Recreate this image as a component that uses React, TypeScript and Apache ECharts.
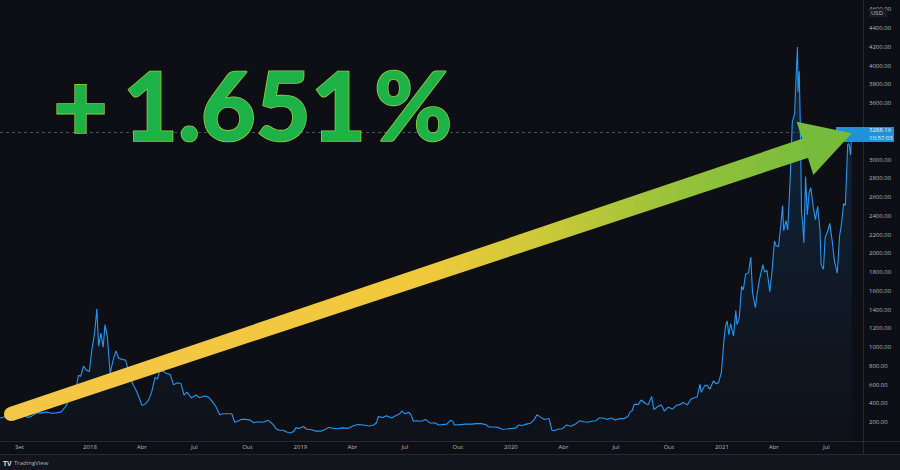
import React, { useEffect, useRef } from "react";
import * as echarts from "echarts";

const dates: string[] = [
  "2017-07-29","2017-08-05","2017-08-12","2017-08-19","2017-08-26","2017-09-02","2017-09-09","2017-09-15","2017-09-22","2017-10-01",
  "2017-10-10","2017-10-18","2017-10-26","2017-11-04","2017-11-12","2017-11-20","2017-11-28","2017-12-05","2017-12-12","2017-12-16",
  "2017-12-21","2017-12-25","2017-12-31","2018-01-04","2018-01-09","2018-01-13","2018-01-16","2018-01-20","2018-01-24","2018-01-27",
  "2018-01-31","2018-02-05","2018-02-10","2018-02-15","2018-02-20","2018-02-26","2018-03-04","2018-03-10","2018-03-16","2018-03-22",
  "2018-03-28","2018-04-01","2018-04-06","2018-04-12","2018-04-18","2018-04-24","2018-04-28","2018-05-03","2018-05-08","2018-05-14",
  "2018-05-20","2018-05-26","2018-06-02","2018-06-08","2018-06-13","2018-06-18","2018-06-26","2018-07-04","2018-07-10","2018-07-18",
  "2018-07-25","2018-07-31","2018-08-07","2018-08-14","2018-08-20","2018-08-28","2018-09-04","2018-09-09","2018-09-14","2018-09-20",
  "2018-09-28","2018-10-05","2018-10-12","2018-10-20","2018-10-28","2018-11-06","2018-11-14","2018-11-20","2018-11-25","2018-12-02",
  "2018-12-08","2018-12-14","2018-12-20","2018-12-24","2018-12-30","2019-01-06","2019-01-12","2019-01-20","2019-01-28","2019-02-05",
  "2019-02-12","2019-02-19","2019-02-26","2019-03-05","2019-03-15","2019-03-25","2019-04-02","2019-04-10","2019-04-20","2019-04-30",
  "2019-05-08","2019-05-13","2019-05-16","2019-05-24","2019-05-30","2019-06-08","2019-06-15","2019-06-22","2019-06-26","2019-07-01",
  "2019-07-08","2019-07-12","2019-07-16","2019-07-22","2019-07-30","2019-08-06","2019-08-14","2019-08-22","2019-08-29","2019-09-05",
  "2019-09-12","2019-09-18","2019-09-22","2019-09-25","2019-10-05","2019-10-15","2019-10-25","2019-11-02","2019-11-10","2019-11-18",
  "2019-11-24","2019-12-02","2019-12-10","2019-12-17","2019-12-25","2020-01-04","2020-01-10","2020-01-14","2020-01-20","2020-01-28",
  "2020-02-04","2020-02-10","2020-02-15","2020-02-20","2020-02-28","2020-03-07","2020-03-12","2020-03-16","2020-03-22","2020-03-30",
  "2020-04-06","2020-04-14","2020-04-22","2020-04-29","2020-05-06","2020-05-13","2020-05-20","2020-05-27","2020-06-02","2020-06-09",
  "2020-06-16","2020-06-23","2020-06-30","2020-07-08","2020-07-15","2020-07-22","2020-07-25","2020-07-29","2020-08-02","2020-08-09",
  "2020-08-14","2020-08-20","2020-08-26","2020-09-01","2020-09-05","2020-09-12","2020-09-18","2020-09-23","2020-09-30","2020-10-07",
  "2020-10-14","2020-10-21","2020-10-25","2020-11-02","2020-11-08","2020-11-14","2020-11-19","2020-11-24","2020-11-26","2020-12-02",
  "2020-12-06","2020-12-11","2020-12-17","2020-12-22","2020-12-26","2020-12-31","2021-01-04","2021-01-07","2021-01-10","2021-01-13",
  "2021-01-16","2021-01-21","2021-01-25","2021-01-27","2021-01-31","2021-02-04","2021-02-07","2021-02-11","2021-02-16","2021-02-20",
  "2021-02-23","2021-02-28","2021-03-03","2021-03-07","2021-03-13","2021-03-16","2021-03-20","2021-03-25","2021-03-29","2021-04-02",
  "2021-04-05","2021-04-09","2021-04-13","2021-04-16","2021-04-18","2021-04-22","2021-04-25","2021-04-29","2021-05-03","2021-05-07",
  "2021-05-10","2021-05-12","2021-05-13","2021-05-15","2021-05-17","2021-05-19","2021-05-21","2021-05-23","2021-05-26","2021-05-29",
  "2021-06-01","2021-06-04","2021-06-08","2021-06-12","2021-06-16","2021-06-20","2021-06-22","2021-06-26","2021-06-29","2021-07-03",
  "2021-07-07","2021-07-11","2021-07-15","2021-07-20","2021-07-24","2021-07-27","2021-07-31","2021-08-03","2021-08-05","2021-08-07",
  "2021-08-09","2021-08-10","2021-08-12","2021-08-14"
];

const prices: number[] = [
  245,255,300,295,330,345,290,250,265,300,
  300,310,295,300,310,370,470,460,700,690,
  800,760,740,960,1150,1410,1010,1150,1000,1240,
  1120,720,860,960,880,870,860,720,610,540,
  450,380,390,430,520,680,660,780,740,720,
  710,600,620,610,490,520,460,490,460,480,
  470,430,370,280,290,290,290,200,210,230,
  230,225,195,205,200,220,180,130,115,115,
  95,85,100,140,135,155,125,120,105,105,
  120,145,135,130,140,135,160,175,170,160,
  170,195,260,250,270,245,270,290,320,290,
  305,275,210,215,210,230,190,195,170,175,
  180,220,210,170,175,180,180,185,185,175,
  150,150,145,125,128,135,140,170,165,180,
  190,225,280,260,230,240,115,110,125,130,
  170,158,180,215,205,200,210,215,245,245,
  230,245,225,240,238,260,305,320,390,390,
  437,405,385,475,335,370,385,320,360,340,
  380,390,410,385,445,460,470,605,520,590,
  595,550,640,610,620,735,1040,1220,1280,1130,
  1250,1120,1390,1240,1310,1650,1610,1780,1790,1960,
  1580,1420,1570,1720,1880,1800,1820,1590,1820,2130,
  2080,2070,2300,2510,2240,2350,2250,2750,3400,3490,
  3950,4200,3720,3940,3330,2430,2320,2110,2820,2410,
  2640,2700,2510,2360,2500,2250,1880,1830,2170,2230,
  2320,2140,1920,1790,2190,2300,2530,2510,2830,3160,
  3170,3140,3050,3288.16
];

const xTickDates: string[] = [
  "2017-09-01","2018-01-01","2018-04-01","2018-07-01","2018-10-01",
  "2019-01-01","2019-04-01","2019-07-01","2019-10-01",
  "2020-01-01","2020-04-01","2020-07-01","2020-10-01",
  "2021-01-01","2021-04-01","2021-07-01"
];
const monthNames: string[] = ["Jan","Fev","Mar","Abr","Mai","Jun","Jul","Ago","Set","Out","Nov","Dez"];
const xStart = "2017-07-29";
const xEnd = "2021-09-02";
const yStep = 200;
const yMax = 4700;
const lastPrice = 3288.16;
const countdown = "10:57:03";
const currency = "USD";
const headlineParts: string[] = ["+", "1.651", "%"];
const brand = "TradingView";

function ts(s: string): number {
  const [y, m, d] = s.split("-").map(Number);
  return Date.UTC(y, m - 1, d);
}

const BG = "#0e0f15";
const AXIS_TEXT = "#b2b5be";
const BORDER = "#262933";

export default function App() {
  const ref = useRef<HTMLDivElement>(null);

  useEffect(() => {
    if (!ref.current) return;
    const chart = echarts.init(ref.current, undefined, { renderer: "svg" });
    const seriesData = dates.map((d, i) => [ts(d), prices[i]]);

    const option: any = {
      animation: false,
      backgroundColor: BG,
      grid: { left: 0, right: 37, top: 0, bottom: 29 },
      xAxis: {
        type: "value",
        min: ts(xStart),
        max: ts(xEnd) + 14 * 3600 * 1000,
        axisLine: { show: false },
        axisTick: { show: false },
        splitLine: { show: false },
        axisLabel: {
          customValues: xTickDates.map(ts),
          color: AXIS_TEXT,
          fontSize: 6,
          fontFamily: "Open Sans",
          margin: 3,
          formatter: (v: number) => {
            const dt = new Date(v);
            const m = dt.getUTCMonth();
            return m === 0 ? String(dt.getUTCFullYear()) : monthNames[m];
          },
        },
      },
      yAxis: {
        type: "value",
        position: "right",
        min: 0,
        max: yMax,
        interval: yStep,
        axisLine: { show: false },
        axisTick: { show: false },
        splitLine: { show: false },
        axisLabel: {
          color: AXIS_TEXT,
          fontSize: 6,
          fontFamily: "Open Sans",
          margin: 6,
          formatter: (v: number) =>
            v > 0 && v % yStep === 0 && Math.abs(v - lastPrice) > 120 ? v.toFixed(2) : "",
        },
      },
      series: [
        {
          type: "line",
          data: seriesData,
          showSymbol: false,
          symbol: "none",
          lineStyle: { color: "#2196f3", width: 1.1 },
          areaStyle: {
            color: new echarts.graphic.LinearGradient(0, 0, 0, 1, [
              { offset: 0, color: "rgba(33,150,243,0.26)" },
              { offset: 1, color: "rgba(33,150,243,0.02)" },
            ]),
          },
          markLine: {
            silent: true,
            symbol: "none",
            label: { show: false },
            lineStyle: { color: "#4a4e5c", width: 1, type: [3, 3] },
            data: [{ yAxis: lastPrice }],
          },
        },
      ],
    };
    chart.setOption(option);

    const py = chart.convertToPixel({ yAxisIndex: 0 }, lastPrice) as number;

    const A = [11, 414];
    const B = [806, 148];
    const dx = B[0] - A[0];
    const dy = B[1] - A[1];
    const L = Math.sqrt(dx * dx + dy * dy);
    const nx = -dy / L;
    const ny = dx / L;
    const w0 = 7;
    const w1 = 10;
    const shaft = [
      [A[0] + nx * w0, A[1] + ny * w0],
      [A[0] - nx * w0, A[1] - ny * w0],
      [B[0] - nx * w1, B[1] - ny * w1],
      [B[0] + nx * w1, B[1] + ny * w1],
    ];

    const textStyleBase = {
      fill: "#1db247",
      stroke: "#9ccb3a",
      lineWidth: 1.6,
      fontFamily: "Lato",
      fontWeight: 900,
      fontSize: 95,
    };
    const headY = 56.5;

    chart.setOption({
      graphic: [
        { type: "rect", z: 1, silent: true, shape: { x: 0, y: 455, width: 900, height: 15 }, style: { fill: "#13141c" } },
        { type: "line", z: 1, silent: true, shape: { x1: 0, y1: 441.5, x2: 900, y2: 441.5 }, style: { stroke: BORDER, lineWidth: 1 } },
        { type: "line", z: 1, silent: true, shape: { x1: 0, y1: 454.5, x2: 900, y2: 454.5 }, style: { stroke: BORDER, lineWidth: 1 } },
        { type: "line", z: 1, silent: true, shape: { x1: 863.5, y1: 0, x2: 863.5, y2: 455 }, style: { stroke: BORDER, lineWidth: 1 } },
        { type: "rect", z: 50, silent: true, shape: { x: 869, y: 9, width: 18, height: 8, r: 1 }, style: { fill: "#1b1d26" } },
        { type: "text", z: 51, silent: true, x: 871, y: 13, style: { text: currency, fill: AXIS_TEXT, fontSize: 6, fontFamily: "Open Sans", textVerticalAlign: "middle" } },
        { type: "rect", z: 50, silent: true, shape: { x: 836, y: py - 5.5, width: 58, height: 15 }, style: { fill: "#2391d8" } },
        { type: "text", z: 51, silent: true, x: 869, y: py - 2, style: { text: lastPrice.toFixed(2), fill: "#e8f3fc", fontSize: 6, fontFamily: "Open Sans", textVerticalAlign: "middle" } },
        { type: "text", z: 51, silent: true, x: 869, y: py + 5.4, style: { text: countdown, fill: "#e8f3fc", fontSize: 6, fontFamily: "Open Sans", textVerticalAlign: "middle" } },
        {
          type: "polygon", z: 100, silent: true,
          shape: { points: shaft },
          style: {
            fill: new echarts.graphic.LinearGradient(0, 0, 1, 0, [
              { offset: 0, color: "#f6c646" },
              { offset: 0.52, color: "#f0c93b" },
              { offset: 0.68, color: "#c9c938" },
              { offset: 0.84, color: "#95c23a" },
              { offset: 1, color: "#78bc3c" },
            ]),
          },
        },
        { type: "circle", z: 100, silent: true, shape: { cx: A[0], cy: A[1], r: w0 }, style: { fill: "#f6c646" } },
        {
          type: "polygon", z: 101, silent: true,
          shape: { points: [[796.7, 121.7], [851.7, 133.3], [813.3, 175]] },
          style: { fill: "#77bb3c" },
        },
        { type: "text", z: 110, silent: true, x: 53, y: headY, style: { ...textStyleBase, text: headlineParts[0] } },
        { type: "text", z: 110, silent: true, x: 123, y: headY, style: { ...textStyleBase, text: headlineParts[1] } },
        { type: "text", z: 110, silent: true, x: 374, y: headY, style: { ...textStyleBase, text: headlineParts[2] } },
        { type: "text", z: 60, silent: true, x: 3, y: 463, style: { text: "TV", fill: "#d1d4dc", fontSize: 7, fontWeight: "bold", fontFamily: "Open Sans", textVerticalAlign: "middle" } },
        { type: "text", z: 60, silent: true, x: 14, y: 463, style: { text: brand, fill: "#b2b5be", fontSize: 6, fontFamily: "Open Sans", textVerticalAlign: "middle" } },
      ],
    });

    return () => chart.dispose();
  }, []);

  return (
    <div
      ref={ref}
      style={{ position: "fixed", left: 0, top: 0, width: 900, height: 470, background: BG }}
    />
  );
}
